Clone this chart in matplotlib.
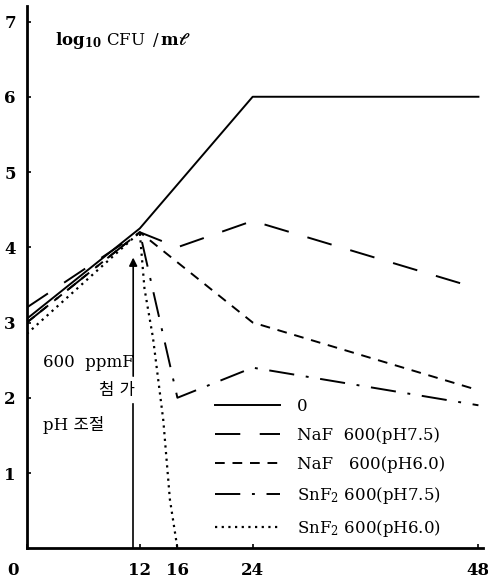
# Bacterial count after fluoride addition
import matplotlib.pyplot as plt
from matplotlib.transforms import ScaledTranslation

hours_ctrl = [0, 12, 24, 48]
log_ctrl = [3.05, 4.25, 6.0, 6.0]

hours_naf75 = [0, 12, 16, 24, 48]
log_naf75 = [3.2, 4.2, 4.0, 4.35, 3.45]

hours_naf60 = [0, 12, 24, 48]
log_naf60 = [3.0, 4.2, 3.0, 2.1]

hours_snf75 = [0, 12, 16, 24, 48]
log_snf75 = [3.0, 4.2, 2.0, 2.4, 1.9]

hours_snf60 = [0, 12, 12.5, 13.4, 14.5, 15.2, 16]
log_snf60 = [2.85, 4.2, 3.45, 2.8, 1.7, 0.65, 0.0]

labels = ['0', 'NaF  600(pH7.5)', 'NaF   600(pH6.0)',
          r'SnF$_2$ 600(pH7.5)', r'SnF$_2$ 600(pH6.0)']
x_ticks = [0, 12, 16, 24, 48]
y_ticks = [1, 2, 3, 4, 5, 6, 7]

plt.rcParams['font.family'] = ['DejaVu Serif', 'Noto Sans CJK KR']
plt.rcParams['mathtext.fontset'] = 'dejavuserif'

fig = plt.figure(figsize=(4.89, 5.87), dpi=100)
ax = fig.add_axes([0.055, 0.066, 0.933, 0.923])

lw = 1.4
ax.plot(hours_ctrl, log_ctrl, color='black', lw=lw, ls='-', label=labels[0])
ax.plot(hours_naf75, log_naf75, color='black', lw=lw, ls=(0, (13, 10)), label=labels[1])
ax.plot(hours_naf60, log_naf60, color='black', lw=lw, ls=(0, (5, 4)), label=labels[2])
ax.plot(hours_snf75, log_snf75, color='black', lw=lw, ls=(0, (13, 6, 1.5, 6)), label=labels[3])
ax.plot(hours_snf60, log_snf60, color='black', lw=1.6, ls=(0, (1.0, 2.0)), label=labels[4])

# arrow marking the addition time, broken where the text sits
arrow_x = 11.3
ax.plot([arrow_x, arrow_x], [0, 1.92], color='black', lw=1.2)
ax.annotate('', xy=(arrow_x, 3.9), xytext=(arrow_x, 2.25),
            arrowprops=dict(arrowstyle='-|>', color='black', lw=1.2,
                            mutation_scale=12))

ax.text(1.7, 2.47, '600  ppmF', fontsize=12, va='center', ha='left')
ax.text(9.6, 2.1, '첨 가', fontsize=12, va='center', ha='center')
ax.text(1.7, 1.64, 'pH 조절', fontsize=12, va='center', ha='left')
ax.text(3.0, 6.75, r'$\mathbf{log_{10}}$ CFU $\,/\,\mathbf{m\ell}$', fontsize=12,
        va='center', ha='left')

ax.set_xlim(0, 48.5)
ax.set_ylim(0, 7.2)
ax.set_xticks(x_ticks)
ax.set_xticklabels([str(t) for t in x_ticks], fontweight='bold', fontsize=12)
ax.set_yticks(y_ticks)
ax.set_yticklabels([str(t) for t in y_ticks], fontweight='bold', fontsize=12)
ax.tick_params(axis='both', direction='in', length=3, width=1.2)
ax.tick_params(axis='x', pad=10)
ax.tick_params(axis='y', pad=8)

# the "0" hour label sits under the y labels in the original
first = ax.get_xticklabels()[0]
first.set_transform(first.get_transform() + ScaledTranslation(-0.14, 0, fig.dpi_scale_trans))

for side in ['top', 'right']:
    ax.spines[side].set_visible(False)
for side in ['left', 'bottom']:
    ax.spines[side].set_linewidth(2)

ax.legend(loc='upper left', bbox_to_anchor=(0.412, 0.278), frameon=False,
          fontsize=12, handlelength=3.9, handletextpad=1.0, borderpad=0,
          borderaxespad=0, labelspacing=0.72)

plt.savefig('out.png', dpi=100)
